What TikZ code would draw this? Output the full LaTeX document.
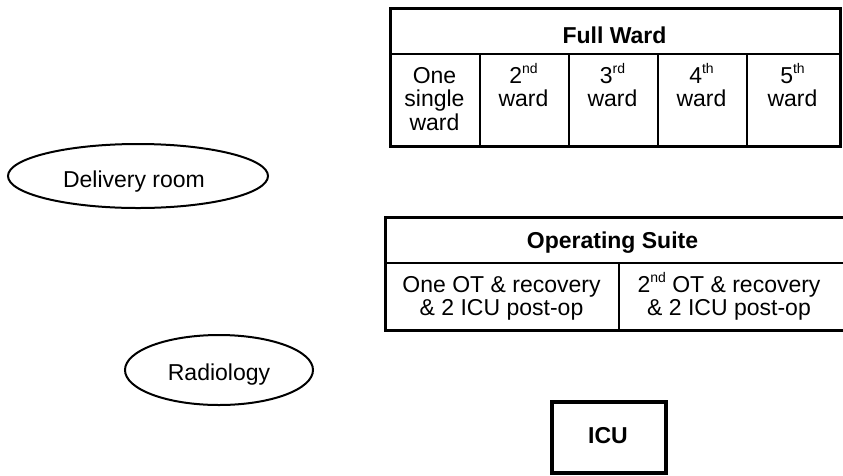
\documentclass[tikz,border=0pt]{standalone}
\usepackage{fontspec}
\setmainfont{Liberation Sans}
\usetikzlibrary{shapes.geometric}
\newcommand\supx[1]{\raisebox{10pt}{\fontsize{14}{14}\selectfont #1}}
\begin{document}
\begin{tikzpicture}[x=1pt,y=-1pt,
  outerline/.style={line width=2.8pt},
  cell/.style={draw, line width=1.8pt, inner sep=0pt, anchor=north west},
  lbl/.style={font=\fontsize{23}{23.5}\selectfont, align=center, inner sep=0pt},
  hdr/.style={font=\fontsize{23}{23.5}\selectfont\bfseries, inner sep=0pt, anchor=base},
  oval/.style={draw, ellipse, line width=2pt, inner sep=0pt},
]
\useasboundingbox (0,0) rectangle (843,475);

% Full Ward table
\node[cell, minimum width=449pt, minimum height=45pt] (fw) at (390,8) {};
\node[hdr] (fwt) at (614.5,43) {Full Ward};
\node[cell, minimum width=89pt, minimum height=92pt] (w1) at (390,53) {};
\node[cell, minimum width=89pt, minimum height=92pt] (w2) at (479,53) {};
\node[cell, minimum width=89pt, minimum height=92pt] (w3) at (568,53) {};
\node[cell, minimum width=89pt, minimum height=92pt] (w4) at (657,53) {};
\node[cell, minimum width=93pt, minimum height=92pt] (w5) at (746,53) {};
\draw[outerline] (fw.north west) rectangle (w5.south east);
\node[lbl, anchor=north] (w1t) at (434.5,62) {\rule{0pt}{21pt}One\\single\\ward};
\node[lbl, anchor=north] (w2t) at (523.5,62) {\rule{0pt}{21pt}2\supx{nd}\\ward};
\node[lbl, anchor=north] (w3t) at (612.5,62) {\rule{0pt}{21pt}3\supx{rd}\\ward};
\node[lbl, anchor=north] (w4t) at (701.5,62) {\rule{0pt}{21pt}4\supx{th}\\ward};
\node[lbl, anchor=north] (w5t) at (792.5,62) {\rule{0pt}{21pt}5\supx{th}\\ward};

% Operating Suite table
\node[cell, minimum width=460pt, minimum height=45pt] (os) at (385,217) {};
\node[hdr] (ost) at (612.5,248) {Operating Suite};
\node[cell, minimum width=233pt, minimum height=67pt] (o1) at (385,262) {};
\node[cell, minimum width=227pt, minimum height=67pt] (o2) at (618,262) {};
\draw[outerline] (os.north west) rectangle (o2.south east);
\node[lbl, anchor=north] (o1t) at (501.5,271) {\rule{0pt}{21pt}One OT \& recovery\\\& 2 ICU post-op};
\node[lbl, anchor=north] (o2t) at (729,271) {\rule{0pt}{21pt}2\supx{nd} OT \& recovery\\\& 2 ICU post-op};

% Ellipses
\node[oval, minimum width=260pt, minimum height=64pt] (deliv) at (138,176) {};
\node[lbl, anchor=base] (delivt) at (134,187) {Delivery room};
\node[oval, minimum width=188pt, minimum height=70pt] (radio) at (219,370) {};
\node[lbl, anchor=base] (radiot) at (219,380) {Radiology};

% ICU
\node[draw, line width=3.5pt, minimum width=114pt, minimum height=71pt, inner sep=0pt] (icu) at (609,437.5) {};
\node[hdr] (icut) at (608,443) {ICU};
\end{tikzpicture}
\end{document}
